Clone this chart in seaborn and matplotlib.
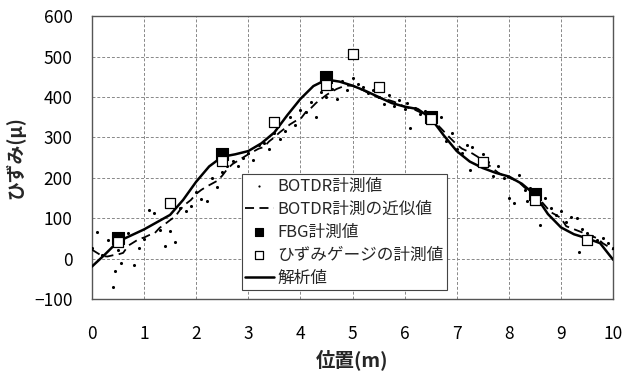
import matplotlib
matplotlib.use("Agg")
import matplotlib.pyplot as plt
import seaborn as sns
import pandas as pd

# BOTDR raw readings (position m, strain μ)
botdr_x = [0.0, 0.1, 0.2, 0.3, 0.4, 0.45, 0.5, 0.55, 0.6, 0.7, 0.8, 0.9, 1.0, 1.1, 1.2, 1.3, 1.4,
           1.5, 1.6, 1.7, 1.8, 1.9, 2.0, 2.1, 2.2, 2.3, 2.4, 2.5, 2.6, 2.7, 2.8, 2.9, 3.0, 3.1,
           3.2, 3.3, 3.4, 3.5, 3.6, 3.7, 3.8, 3.9, 4.0, 4.1, 4.2, 4.3, 4.4, 4.5, 4.6, 4.7, 4.8,
           4.9, 5.0, 5.1, 5.2, 5.3, 5.4, 5.5, 5.6, 5.7, 5.8, 5.9, 6.0, 6.05, 6.1, 6.2, 6.3, 6.4,
           6.5, 6.6, 6.7, 6.8, 6.9, 7.0, 7.1, 7.2, 7.25, 7.3, 7.4, 7.5, 7.6, 7.7, 7.8, 7.9, 8.0,
           8.1, 8.2, 8.3, 8.35, 8.4, 8.5, 8.6, 8.7, 8.8, 8.9, 9.0, 9.1, 9.2, 9.3, 9.35, 9.4, 9.5,
           9.6, 9.7, 9.8, 9.9, 10.0]
botdr_y = [25, 65, 8, 46, -70, -31, 20, -11, 40, 62, -16, 25, 48, 120, 112, 70, 30,
           68, 42, 125, 118, 130, 165, 148, 142, 200, 178, 215, 228, 242, 230, 248, 262, 245,
           280, 286, 272, 312, 296, 316, 350, 330, 368, 362, 388, 350, 412, 400, 420, 396, 440,
           418, 448, 432, 425, 410, 418, 400, 382, 405, 378, 392, 370, 385, 322, 372, 358, 366,
           335, 352, 350, 292, 310, 270, 262, 280, 219, 276, 232, 258, 238, 205, 228, 200, 150,
           137, 208, 170, 142, 175, 150, 83, 150, 125, 108, 118, 90, 102, 100, 16, 72, 62,
           55, 45, 52, 38, 25]

# Approximation of the BOTDR readings
approx_x = [0.0, 0.1, 0.2, 0.3, 0.4, 0.5, 0.6, 0.7, 0.8, 0.9, 1.0, 1.1, 1.2, 1.3, 1.4, 1.5, 1.6,
            1.7, 1.8, 1.9, 2.0, 2.1, 2.2, 2.3, 2.4, 2.5, 2.6, 2.7, 2.8, 2.9, 3.0, 3.1, 3.2, 3.3,
            3.4, 3.5, 3.6, 3.7, 3.8, 3.9, 4.0, 4.1, 4.2, 4.3, 4.4, 4.5, 4.6, 4.7, 4.8, 4.9, 5.0,
            5.1, 5.2, 5.3, 5.4, 5.5, 5.6, 5.7, 5.8, 5.9, 6.0, 6.1, 6.2, 6.3, 6.4, 6.5, 6.6, 6.7,
            6.8, 6.9, 7.0, 7.1, 7.2, 7.3, 7.4, 7.5, 7.6, 7.7, 7.8, 7.9, 8.0, 8.1, 8.2, 8.3, 8.4,
            8.5, 8.6, 8.7, 8.8, 8.9, 9.0, 9.1, 9.2, 9.3, 9.4, 9.5, 9.6, 9.7, 9.8, 9.9, 10.0]
approx_y = [22, 14, 6, 5, 8, 10, 14, 32, 40, 48, 52, 58, 62, 76, 85, 95, 104,
            122, 135, 145, 160, 170, 178, 185, 192, 205, 222, 234, 242, 250, 258, 265, 272, 276,
            290, 300, 312, 322, 332, 340, 345, 362, 372, 385, 395, 405, 413, 420, 425, 428, 428,
            422, 417, 410, 405, 398, 395, 392, 388, 382, 376, 372, 368, 362, 352, 345, 335, 322,
            308, 295, 282, 272, 266, 260, 252, 242, 233, 222, 212, 205, 200, 195, 188, 176, 165,
            155, 145, 130, 115, 108, 100, 80, 75, 70, 65, 58, 55, 50, 38, 30, 22]

# FBG sensor readings
fbg_x = [0.5, 2.5, 4.5, 6.5, 8.5]
fbg_y = [50, 258, 450, 350, 160]

# Strain gauge readings
gauge_x = [0.5, 1.5, 2.5, 3.5, 4.5, 5.0, 5.5, 6.5, 7.5, 8.5, 9.5]
gauge_y = [42, 138, 242, 337, 430, 507, 425, 345, 240, 145, 47]

# Analytical solution
calc_x = [0.0, 0.25, 0.5, 0.75, 1.0, 1.25, 1.5, 1.75, 2.0, 2.25, 2.5, 2.75, 3.0, 3.25, 3.5,
          3.75, 4.0, 4.25, 4.5, 4.75, 5.0, 5.25, 5.5, 5.75, 6.0, 6.25, 6.5, 6.75, 7.0, 7.25,
          7.5, 7.75, 8.0, 8.25, 8.5, 8.75, 9.0, 9.25, 9.5, 9.75, 10.0]
calc_y = [-20, 10, 42, 57, 72, 90, 108, 145, 190, 228, 252, 258, 266, 285, 312,
          355, 395, 427, 443, 438, 428, 415, 400, 385, 376, 370, 348, 305, 266, 240,
          224, 212, 203, 185, 158, 110, 77, 60, 50, 38, -3]

x_ticks = list(range(0, 11))
y_ticks = list(range(-100, 601, 100))

labels = ["BOTDR計測値", "BOTDR計測の近似値", "FBG計測値", "ひずみゲージの計測値", "解析値"]

sns.set_theme(style="white")
plt.rcParams["font.family"] = ["Noto Sans CJK JP", "DejaVu Sans"]

fig = plt.figure(figsize=(6.25, 3.76), dpi=100)
ax = fig.add_axes([0.147, 0.205, 0.834, 0.752])

df_b = pd.DataFrame({"x": botdr_x, "y": botdr_y})
df_a = pd.DataFrame({"x": approx_x, "y": approx_y})
df_f = pd.DataFrame({"x": fbg_x, "y": fbg_y})
df_g = pd.DataFrame({"x": gauge_x, "y": gauge_y})
df_c = pd.DataFrame({"x": calc_x, "y": calc_y})

sns.scatterplot(data=df_b, x="x", y="y", ax=ax, color="black", s=5, marker="o",
                linewidth=0, label=labels[0], zorder=3)
sns.lineplot(data=df_a, x="x", y="y", ax=ax, color="black", linewidth=1.3,
             linestyle=(0, (5, 3)), sort=False, label=labels[1], zorder=3)
sns.scatterplot(data=df_f, x="x", y="y", ax=ax, color="black", marker="s", s=68,
                edgecolor="black", linewidth=0.8, label=labels[2], zorder=4)
sns.scatterplot(data=df_g, x="x", y="y", ax=ax, color="white", marker="s", s=60,
                edgecolor="black", linewidth=0.9, label=labels[3], zorder=5)
sns.lineplot(data=df_c, x="x", y="y", ax=ax, color="black", linewidth=1.8,
             sort=False, label=labels[4], zorder=3)

ax.set_xlim(0, 10)
ax.set_ylim(-100, 600)
ax.set_xticks(x_ticks)
ax.set_yticks(y_ticks)
ax.tick_params(axis="both", length=0, labelsize=12.5, colors="black")
ax.tick_params(axis="x", pad=19)
ax.tick_params(axis="y", pad=14)
ax.grid(True, color="#888888", linestyle=(0, (3, 2)), linewidth=0.7)
for sp in ax.spines.values():
    sp.set_color("#555555")
    sp.set_linewidth(1.0)

ax.set_xlabel("位置(m)", fontsize=14, fontweight="bold", labelpad=4)
ax.set_ylabel("ひずみ(μ)", fontsize=13.5, fontweight="bold", labelpad=6)

handles, lbls = ax.get_legend_handles_labels()
leg = ax.legend(handles, lbls, loc="lower left", bbox_to_anchor=(0.288, 0.032),
                fontsize=12, frameon=True, fancybox=False, framealpha=1,
                edgecolor="#444444", borderpad=0.2, labelspacing=0.36,
                handlelength=1.7, handletextpad=0.2, borderaxespad=0,
                markerscale=0.72)
leg.get_frame().set_linewidth(0.8)

fig.savefig("out.png", dpi=100)
